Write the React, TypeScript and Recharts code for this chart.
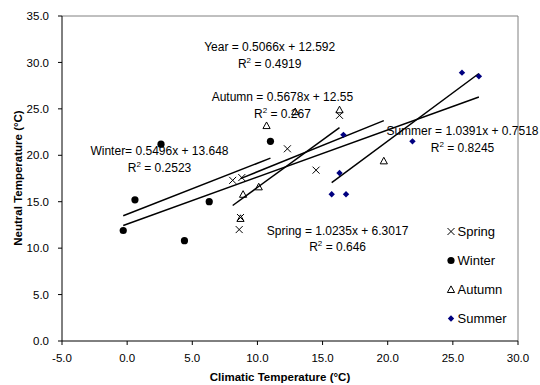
import React from 'react';
import { ScatterChart, Scatter, XAxis, YAxis, ReferenceLine } from 'recharts';

// Climatic vs neutral temperature, one list pair per season
const springX = [8.1, 8.8, 8.7, 8.6, 12.3, 14.5, 16.3];
const springY = [17.3, 17.6, 13.3, 12.0, 20.7, 18.4, 24.3];
const winterX = [-0.3, 0.6, 2.6, 4.4, 6.3, 11.0];
const winterY = [11.9, 15.2, 21.2, 10.8, 15.0, 21.5];
const autumnX = [8.7, 8.9, 10.1, 10.7, 12.9, 16.3, 19.7];
const autumnY = [13.2, 15.8, 16.6, 23.2, 24.7, 24.9, 19.4];
const summerX = [15.7, 16.8, 16.3, 16.6, 21.9, 25.7, 27.0];
const summerY = [15.8, 15.8, 18.1, 22.2, 21.5, 28.9, 28.5];

const xTicks = [-5, 0, 5, 10, 15, 20, 25, 30];
const yTicks = [0, 5, 10, 15, 20, 25, 30, 35];

// Linear fits as printed next to each line
const fitNames = ['Year', 'Autumn', 'Winter', 'Summer', 'Spring'];
const fitSlopes = [0.5066, 0.5678, 0.5496, 1.0391, 1.0235];
const fitIntercepts = [12.592, 12.55, 13.648, 0.7518, 6.3017];
const fitR2 = ['0.4919', '0.267', '0.2523', '0.8245', '0.646'];
const fitLabels = [
  'Year = 0.5066x + 12.592',
  'Autumn = 0.5678x + 12.55',
  'Winter= 0.5496x + 13.648',
  'Summer = 1.0391x + 0.7518',
  'Spring = 1.0235x + 6.3017',
];

const FONT = '"Liberation Sans", Arial, sans-serif';

const toPoints = (xs: number[], ys: number[]) => xs.map((x, i) => ({ x, y: ys[i] }));

const seriesX: Record<string, number[]> = {
  Spring: springX,
  Winter: winterX,
  Autumn: autumnX,
  Summer: summerX,
  Year: [...springX, ...winterX, ...autumnX, ...summerX],
};

// label placement (centre x, baseline y of the equation line)
const labelPos: Record<string, [number, number]> = {
  Year: [269.7, 51],
  Autumn: [282.4, 101],
  Winter: [159.5, 155],
  Summer: [462.5, 135],
  Spring: [337.6, 234.5],
};

const CrossShape = (p: any) => (
  <g stroke="#000" strokeWidth={1}>
    <line x1={p.cx - 3.5} y1={p.cy - 3.5} x2={p.cx + 3.5} y2={p.cy + 3.5} />
    <line x1={p.cx - 3.5} y1={p.cy + 3.5} x2={p.cx + 3.5} y2={p.cy - 3.5} />
  </g>
);
const DotShape = (p: any) => <circle cx={p.cx} cy={p.cy} r={3.6} fill="#000" />;
const TriShape = (p: any) => (
  <polygon
    points={`${p.cx},${p.cy - 3.6} ${p.cx - 3.6},${p.cy + 3} ${p.cx + 3.6},${p.cy + 3}`}
    fill="none"
    stroke="#000"
    strokeWidth={1}
  />
);
const DiamondShape = (p: any) => (
  <polygon
    points={`${p.cx},${p.cy - 3.2} ${p.cx + 3.2},${p.cy} ${p.cx},${p.cy + 3.2} ${p.cx - 3.2},${p.cy}`}
    fill="#000080"
  />
);

const legendItems = [
  { name: 'Spring', Shape: CrossShape },
  { name: 'Winter', Shape: DotShape },
  { name: 'Autumn', Shape: TriShape },
  { name: 'Summer', Shape: DiamondShape },
];

const fmt = (v: number) => v.toFixed(1);

export default function App() {
  const tick = { fill: '#000', fontSize: 11.5, fontFamily: FONT };
  return (
    <div style={{ position: 'absolute', left: 0, top: 0, width: 540, height: 385, background: '#fff' }}>
      <ScatterChart width={540} height={385} margin={{ top: 16, right: 22, bottom: 14, left: 12 }}>
        <XAxis
          type="number"
          dataKey="x"
          domain={[-5, 30]}
          ticks={xTicks}
          tickFormatter={fmt}
          height={30}
          tick={tick}
          tickSize={4}
          tickMargin={9}
          axisLine={{ stroke: '#000' }}
          tickLine={{ stroke: '#000' }}
          allowDataOverflow
        />
        <YAxis
          type="number"
          dataKey="y"
          domain={[0, 35]}
          ticks={yTicks}
          tickFormatter={fmt}
          width={50}
          tick={tick}
          tickSize={4}
          tickMargin={9}
          axisLine={{ stroke: '#000' }}
          tickLine={{ stroke: '#000' }}
          allowDataOverflow
        />
        <ReferenceLine y={35} stroke="#808080" strokeWidth={1} />
        <ReferenceLine x={30} stroke="#808080" strokeWidth={1} />
        {fitNames.map((name, i) => {
          const xs = seriesX[name];
          const x0 = Math.min(...xs);
          const x1 = Math.max(...xs);
          return (
            <ReferenceLine
              key={name}
              segment={[
                { x: x0, y: fitSlopes[i] * x0 + fitIntercepts[i] },
                { x: x1, y: fitSlopes[i] * x1 + fitIntercepts[i] },
              ]}
              stroke="#000"
              strokeWidth={1.5}
            />
          );
        })}
        <Scatter name="Spring" data={toPoints(springX, springY)} shape={CrossShape} isAnimationActive={false} />
        <Scatter name="Winter" data={toPoints(winterX, winterY)} shape={DotShape} isAnimationActive={false} />
        <Scatter name="Autumn" data={toPoints(autumnX, autumnY)} shape={TriShape} isAnimationActive={false} />
        <Scatter name="Summer" data={toPoints(summerX, summerY)} shape={DiamondShape} isAnimationActive={false} />
      </ScatterChart>
      <svg
        width={540}
        height={385}
        style={{ position: 'absolute', left: 0, top: 0, pointerEvents: 'none' }}
        fontFamily={FONT}
      >
        {fitNames.map((name, i) => {
          const [cx, by] = labelPos[name];
          return (
            <g key={name} fontSize={12} fill="#000" textAnchor="middle">
              <text x={cx} y={by}>{fitLabels[i]}</text>
              <text x={cx} y={by + 16.5}>
                R<tspan fontSize={8} dy={-5}>2</tspan>
                <tspan dy={5}>{` = ${fitR2[i]}`}</tspan>
              </text>
            </g>
          );
        })}
        {legendItems.map(({ name, Shape }, i) => (
          <g key={name}>
            <Shape cx={451} cy={231.5 + i * 29} />
            <text x={457.5} y={235.5 + i * 29} fontSize={13} fill="#000">
              {name}
            </text>
          </g>
        ))}
        <text x={280} y={380.5} fontSize={11.5} fontWeight="bold" textAnchor="middle" fill="#000">
          Climatic Temperature (°C)
        </text>
        <text
          transform="translate(22,178) rotate(-90)"
          fontSize={11.5}
          fontWeight="bold"
          textAnchor="middle"
          fill="#000"
        >
          Neutral Temperature (°C)
        </text>
      </svg>
    </div>
  );
}
